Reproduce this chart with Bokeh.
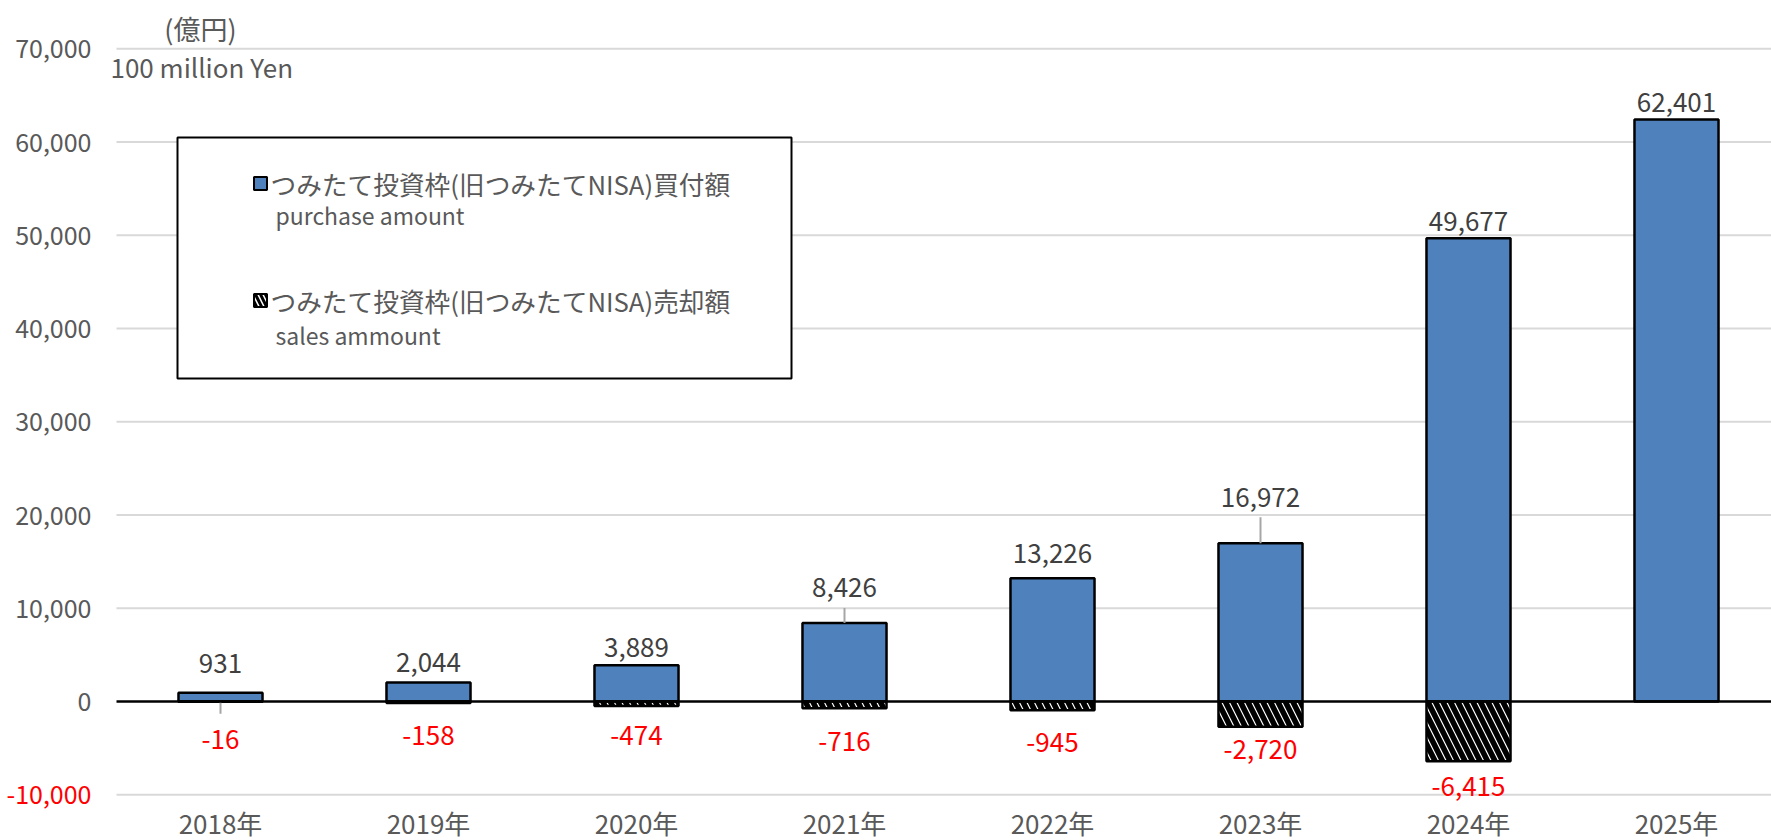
from bokeh.plotting import figure
from bokeh.models import ColumnDataSource, Label, LabelSet
from bokeh.core.properties import value
from bokeh.embed import file_html
from bokeh.resources import INLINE

# ---------------- data ----------------
years = ["2018年", "2019年", "2020年", "2021年", "2022年", "2023年", "2024年", "2025年"]
purchase = [931, 2044, 3889, 8426, 13226, 16972, 49677, 62401]
sales = [-16, -158, -474, -716, -945, -2720, -6415]
y_ticks = [-10000, 0, 10000, 20000, 30000, 40000, 50000, 60000, 70000]
legend_jp = ["つみたて投資枠(旧つみたてNISA)買付額", "つみたて投資枠(旧つみたてNISA)売却額"]
legend_en = ["purchase amount", "sales ammount"]
unit_jp = "(億円)"
unit_en = "100 million Yen"

# ---------------- layout / style ----------------
W, H = 1771, 840
PLOT_L = 116          # px of left edge of plot area (x = -0.5)
CAT_PX = 208          # px per category
ZERO_PX = 701         # px of y = 0
PX_PER_10K = 93.25
UPP = 10000 / PX_PER_10K  # data units per px
X0 = -0.5 - PLOT_L / CAT_PX
X1 = -0.5 + (W - PLOT_L) / CAT_PX
Y1 = ZERO_PX * UPP
Y0 = -(H - ZERO_PX) * UPP
FONT = "Noto Sans CJK JP"
GRAY = "#595959"
DARK = "#404040"
RED = "#ff0000"
BLUE = "#4f81bd"
GRID = "#d9d9d9"
BAR_W = 0.404

# label offsets (screen px, positive = up)
purchase_dy = [29, 20, 18, 35, 25, 46, 17, 17]
sales_dy = [-38, -33, -30, -33, -32, -23, -25]
# leader lines: (series, index, length px)
leaders = [("s", 0, -12), ("p", 3, 15), ("p", 5, 26)]


def fx(px):  # page px -> data x
    return X0 + px / CAT_PX


def fy(py):  # page px -> data y
    return Y1 - py * UPP


p = figure(width=W, height=H, x_range=(X0, X1), y_range=(Y0, Y1),
           output_backend="svg", toolbar_location=None,
           min_border=0, background_fill_color="white", border_fill_color="white")
p.outline_line_color = None
p.axis.visible = False
p.grid.visible = False

x_left = -0.5
# grid lines
gt = [t for t in y_ticks if t != 0]
p.segment(x0=[x_left] * len(gt), y0=gt, x1=[X1] * len(gt), y1=gt, line_color=GRID, line_width=2)

# legend box
p.quad(left=[fx(177)], right=[fx(791)], top=[fy(137)], bottom=[fy(378)],
       fill_color="white", line_color="black", line_width=2)

src_p = ColumnDataSource(dict(x=list(range(len(purchase))), top=purchase,
                              label=[f"{v:,}" for v in purchase], dy=purchase_dy))
src_s = ColumnDataSource(dict(x=list(range(len(sales))), bottom=sales,
                              label=[f"{v:,}" for v in sales], dy=sales_dy))

p.vbar(x="x", top="top", bottom=0, width=BAR_W, source=src_p,
       fill_color=BLUE, line_color="black", line_width=2.5)
p.vbar(x="x", top=0, bottom="bottom", width=BAR_W, source=src_s,
       fill_color="white", hatch_pattern="left_diagonal_line", hatch_color="black",
       hatch_weight=5.5, hatch_scale=15, line_color="black", line_width=2.5)

# leader lines
lx, ly0, ly1 = [], [], []
for s, i, L in leaders:
    v = purchase[i] if s == "p" else sales[i]
    lx.append(i)
    ly0.append(v)
    ly1.append(v + L * UPP)
p.segment(x0=lx, y0=ly0, x1=lx, y1=ly1, line_color="#a6a6a6", line_width=2)

# zero line
p.segment(x0=[x_left], y0=[0], x1=[X1], y1=[0], line_color="black", line_width=2.5)

# legend markers
mx = fx(260)
p.rect(x=[mx], y=[fy(183)], width=13, height=13, width_units="screen", height_units="screen",
       fill_color=BLUE, line_color="black", line_width=2)
p.rect(x=[mx], y=[fy(300)], width=13, height=13, width_units="screen", height_units="screen",
       fill_color="white", hatch_pattern="left_diagonal_line", hatch_color="black",
       hatch_weight=3, hatch_scale=10, line_color="black", line_width=2)

# value labels
p.add_layout(LabelSet(x="x", y="top", text="label", y_offset="dy", source=src_p,
                      text_align="center", text_baseline="middle", text_font=value(FONT),
                      text_font_size="26px", text_color=DARK))
p.add_layout(LabelSet(x="x", y="bottom", text="label", y_offset="dy", source=src_s,
                      text_align="center", text_baseline="middle", text_font=value(FONT),
                      text_font_size="26px", text_color=RED))

# y tick labels
src_t = ColumnDataSource(dict(x=[x_left] * len(y_ticks), y=y_ticks,
                              text=[f"{t:,}" for t in y_ticks],
                              color=[RED if t < 0 else GRAY for t in y_ticks]))
p.add_layout(LabelSet(x="x", y="y", text="text", x_offset=-25, source=src_t,
                      text_align="right", text_baseline="middle", text_font=value(FONT),
                      text_font_size="25px", text_color="color"))

# category labels
src_c = ColumnDataSource(dict(x=list(range(len(years))), y=[y_ticks[0]] * len(years), text=years))
p.add_layout(LabelSet(x="x", y="y", text="text", y_offset=-28, source=src_c,
                      text_align="center", text_baseline="middle", text_font=value(FONT),
                      text_font_size="26px", text_color=GRAY))

# unit labels
p.add_layout(Label(x=fx(200), y=fy(28), text=unit_jp, text_align="center",
                   text_baseline="middle", text_font=FONT, text_font_size="27px", text_color=GRAY))
p.add_layout(Label(x=fx(110), y=fy(66), text=unit_en, text_align="left",
                   text_baseline="middle", text_font=FONT, text_font_size="26px", text_color=GRAY))

# legend texts
for k, (ty_jp, ty_en) in enumerate([(183, 214), (300, 334)]):
    p.add_layout(Label(x=fx(270), y=fy(ty_jp), text=legend_jp[k], text_align="left",
                       text_baseline="middle", text_font=FONT, text_font_size="25.7px", text_color=GRAY))
    p.add_layout(Label(x=fx(275), y=fy(ty_en), text=legend_en[k], text_align="left",
                       text_baseline="middle", text_font=FONT, text_font_size="23px", text_color=GRAY))

open("out.html", "w").write(file_html(p, INLINE))
